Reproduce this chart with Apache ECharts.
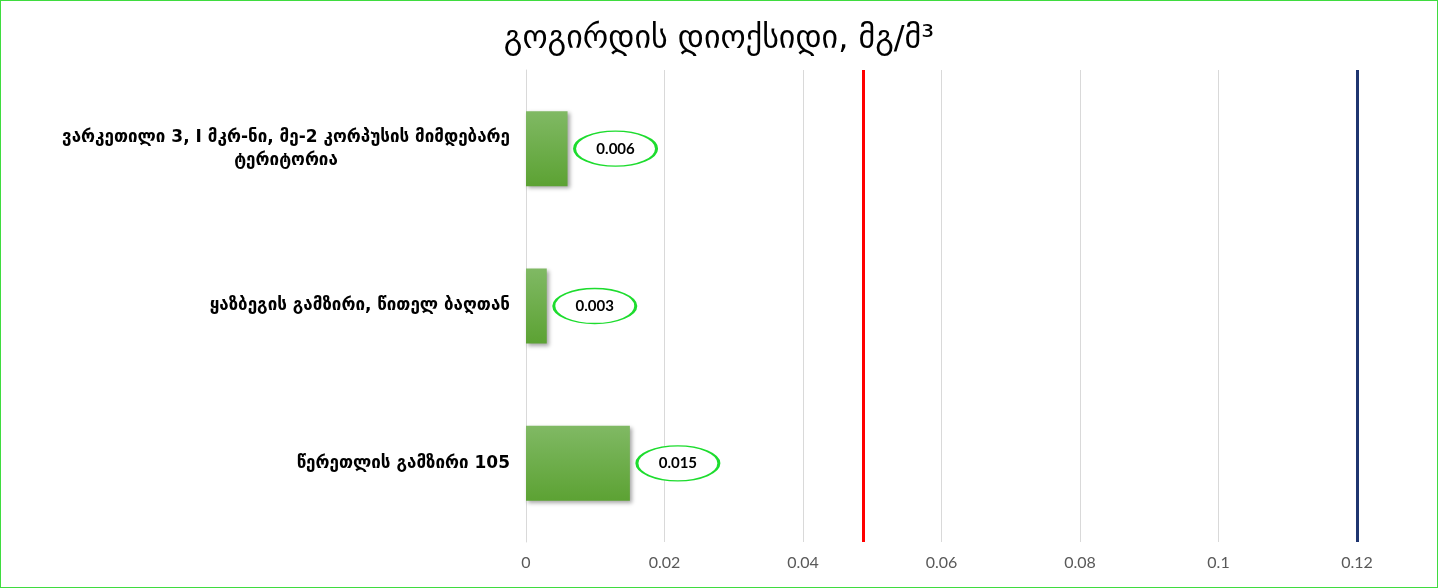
<!DOCTYPE html>
<html>
<head>
<meta charset="utf-8">
<script src="https://cdn.jsdelivr.net/npm/echarts@6/dist/echarts.min.js"></script>
<style>
  html, body { margin: 0; padding: 0; background: #fff; }
  #chart { width: 1438px; height: 588px; box-sizing: border-box; border: 1.5px solid #3fdc3f; }
</style>
</head>
<body>
<div id="chart"></div>
<script>
const titleText = 'გოგირდის დიოქსიდი, მგ/მ³';
const categories = [
  'ვარკეთილი 3, I მკრ-ნი, მე-2 კორპუსის მიმდებარე\nტერიტორია',
  'ყაზბეგის გამზირი, წითელ ბაღთან',
  'წერეთლის გამზირი 105'
];
const values = [0.006, 0.003, 0.015];
const limitRed = 0.0487;
const limitNavy = 0.12;
const xTicks = { min: 0, max: 0.12, interval: 0.02 };

const chart = echarts.init(document.getElementById('chart'));
chart.setOption({
  animation: false,
  title: {
    text: titleText,
    left: 'center',
    top: 18,
    textStyle: { fontSize: 32, fontWeight: 'normal', color: '#000', fontFamily: 'DejaVu Sans' }
  },
  grid: { left: 525, right: 80, top: 69, bottom: 45, containLabel: false },
  xAxis: {
    type: 'value',
    min: xTicks.min, max: xTicks.max, interval: xTicks.interval,
    axisLine: { show: false },
    axisTick: { show: false },
    splitLine: { lineStyle: { color: '#d9d9d9', width: 1 } },
    axisLabel: {
      color: '#595959', fontSize: 16, fontFamily: 'Lato', margin: 13,
      formatter: v => String(Math.round(v * 100) / 100)
    }
  },
  yAxis: {
    type: 'category',
    inverse: true,
    data: categories,
    axisLine: { show: true, lineStyle: { color: '#d9d9d9' } },
    axisTick: { show: false },
    axisLabel: {
      margin: 16,
      formatter: v => v.split('\n').map(s => '{c|' + s + '}').join('\n'),
      rich: {
        c: { align: 'center', fontSize: 17, lineHeight: 23, color: '#000', fontWeight: 'bold', fontFamily: 'DejaVu Sans' }
      }
    }
  },
  series: [
    {
      type: 'bar',
      data: values,
      barWidth: 75,
      itemStyle: {
        color: new echarts.graphic.LinearGradient(0, 0, 0, 1, [
          { offset: 0, color: '#80b964' },
          { offset: 1, color: '#5ca233' }
        ]),
        shadowColor: 'rgba(0,0,0,0.35)',
        shadowBlur: 4,
        shadowOffsetX: 2,
        shadowOffsetY: 2
      },
      markLine: {
        silent: true,
        symbol: 'none',
        precision: 4,
        label: { show: false },
        data: [
          { xAxis: limitRed, lineStyle: { color: '#ff0000', width: 3, type: 'solid' } },
          { xAxis: limitNavy, lineStyle: { color: '#1f3570', width: 3, type: 'solid' } }
        ]
      }
    },
    {
      type: 'scatter',
      data: values.map((v, i) => [v, categories[i]]),
      symbol: 'circle',
      symbolSize: [82, 35],
      symbolOffset: [48, 0],
      z: 5,
      itemStyle: { color: '#ffffff', borderColor: '#1ddc2e', borderWidth: 2, opacity: 1 },
      label: {
        show: true,
        position: 'inside',
        formatter: p => String(p.value[0]),
        color: '#000',
        fontSize: 15,
        fontWeight: 'bold',
        fontFamily: 'Lato'
      }
    }
  ]
});
</script>
</body>
</html>
